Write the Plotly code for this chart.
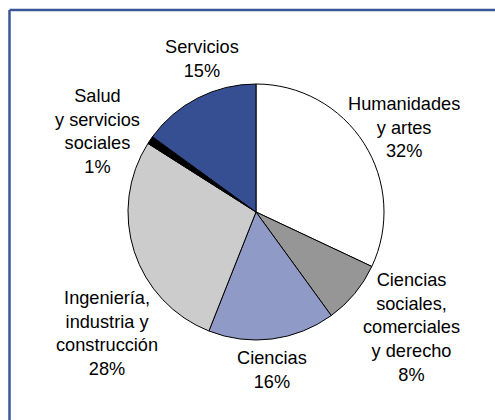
import plotly.graph_objects as go

# ---- data ----
categories = [
    "Humanidades<br>y artes",
    "Ciencias<br>sociales,<br>comerciales<br>y derecho",
    "Ciencias",
    "Ingeniería,<br>industria y<br>construcción",
    "Salud<br>y servicios<br>sociales",
    "Servicios",
]
values = [32, 8, 16, 28, 1, 15]

# ---- styles / layout ----
colors = ["#ffffff", "#969696", "#8f9ac7", "#cccccc", "#000000", "#364f92"]
W, H = 495, 420
cx, cy, r = 256, 212, 128
# label block centres in pixels
label_px = [(404, 127), (411, 327), (272, 370), (107, 333), (97, 131), (202, 59)]

fig = go.Figure(go.Pie(
    labels=[c.replace("<br>", " ") for c in categories],
    values=values,
    sort=False,
    direction="clockwise",
    rotation=0,
    marker=dict(colors=colors, line=dict(color="#000000", width=1)),
    textinfo="none",
    hoverinfo="label+percent",
    showlegend=False,
    domain=dict(x=[(cx - r) / W, (cx + r) / W], y=[1 - (cy + r) / H, 1 - (cy - r) / H]),
))

annotations = []
for cat, v, (px, py) in zip(categories, values, label_px):
    annotations.append(dict(
        x=px / W, y=1 - py / H, xref="paper", yref="paper",
        text=f"{cat}<br>{v}%", showarrow=False,
        xanchor="center", yanchor="middle", align="center",
        font=dict(family="Liberation Sans, Arial, sans-serif", size=18.2, color="#000000"),
    ))

bx, by = 9.5 / W, 1 - 10 / H
border = dict(color="#3a569a", width=2.5)
fig.update_layout(
    width=W, height=H,
    margin=dict(l=0, r=0, t=0, b=0),
    paper_bgcolor="#ffffff",
    plot_bgcolor="#ffffff",
    annotations=annotations,
    shapes=[
        dict(type="line", xref="paper", yref="paper", x0=bx, y0=0, x1=bx, y1=by, line=border),
        dict(type="line", xref="paper", yref="paper", x0=bx, y0=by, x1=1, y1=by, line=border),
    ],
)

fig.write_html(
    "out.html",
    config={"displayModeBar": False},
    post_script="document.body.style.margin='0';document.body.style.overflow='hidden';",
)
